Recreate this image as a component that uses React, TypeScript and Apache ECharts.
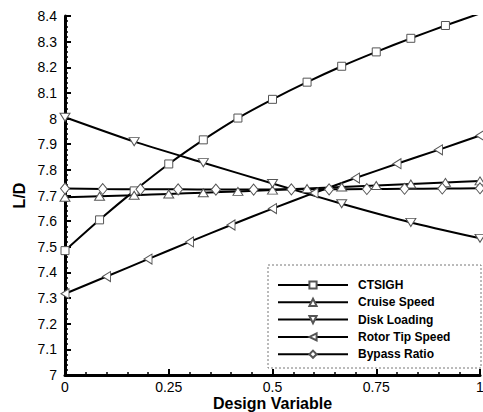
import React, { useEffect, useRef } from "react";
import * as echarts from "echarts";

const xTwelfths = [0, 0.0833, 0.1667, 0.25, 0.3333, 0.4167, 0.5, 0.5833, 0.6667, 0.75, 0.8333, 0.9167, 1];
const xElevenths = [0, 0.0909, 0.1818, 0.2727, 0.3636, 0.4545, 0.5455, 0.6364, 0.7273, 0.8182, 0.9091, 1];
const xSixths = [0, 0.1667, 0.3333, 0.5, 0.6667, 0.8333, 1];
const xTenths = [0, 0.1, 0.2, 0.3, 0.4, 0.5, 0.6, 0.7, 0.8, 0.9, 1];

const ctsigh = [7.485, 7.605, 7.718, 7.823, 7.917, 8.002, 8.075, 8.142, 8.204, 8.26, 8.313, 8.363, 8.41];
const cruiseSpeed = [7.693, 7.697, 7.701, 7.706, 7.711, 7.716, 7.721, 7.727, 7.733, 7.739, 7.745, 7.751, 7.757];
const diskLoading = [8.005, 7.91, 7.828, 7.747, 7.668, 7.595, 7.533];
const rotorTipSpeed = [7.317, 7.384, 7.452, 7.519, 7.585, 7.649, 7.71, 7.768, 7.824, 7.878, 7.934];
const bypassRatio = [7.727, 7.725, 7.724, 7.724, 7.723, 7.723, 7.724, 7.724, 7.725, 7.726, 7.727, 7.728];

const seriesNames = ["CTSIGH", "Cruise Speed", "Disk Loading", "Rotor Tip Speed", "Bypass Ratio"];

const FONT = 'Arial, "Liberation Sans", Helvetica, sans-serif';

function pairs(xs: number[], ys: number[]) {
  return xs.map((x, i) => [x, ys[i]]);
}

export default function App() {
  const ref = useRef<HTMLDivElement>(null);
  useEffect(() => {
    if (!ref.current) return;
    const chart = echarts.init(ref.current, null, { renderer: "svg" });
    const mk = (name: string, data: number[][], symbol: string, size: number | number[]) => ({
      name,
      type: "line",
      data,
      symbol,
      symbolSize: size,
      showAllSymbol: true,
      smooth: 0.2,
      clip: true,
      lineStyle: { color: "#000", width: 2 },
      itemStyle: { color: "#fff", borderColor: "#555", borderWidth: 1 },
      emphasis: { disabled: true },
    });
    chart.setOption({
      animation: false,
      grid: { left: 65, right: 3, top: 16, bottom: 37, outerBoundsMode: "none", containLabel: false },
      xAxis: {
        type: "value",
        min: 0,
        max: 1,
        interval: 0.25,
        name: "Design Variable",
        nameLocation: "middle",
        nameGap: 20,
        nameMoveOverlap: false,
        nameTextStyle: { fontFamily: FONT, fontSize: 16, lineHeight: 16, fontWeight: "bold", color: "#000" },
        axisLine: { show: true, lineStyle: { color: "#000", width: 3 } },
        axisTick: { show: true, inside: true, length: 6, lineStyle: { color: "#000", width: 2 } },
        minorTick: { show: true, splitNumber: 5, length: 3, lineStyle: { color: "#000", width: 1.5 } },
        splitLine: { show: false },
        axisLabel: { fontFamily: FONT, fontSize: 14, color: "#000", margin: 5 },
      },
      yAxis: {
        type: "value",
        min: 7,
        max: 8.4,
        interval: 0.1,
        name: "L/D",
        nameLocation: "middle",
        nameGap: 38,
        nameMoveOverlap: false,
        nameTextStyle: { fontFamily: FONT, fontSize: 16, fontWeight: "bold", color: "#000" },
        axisLine: { show: true, lineStyle: { color: "#000", width: 3 } },
        axisTick: { show: true, inside: true, length: 6, lineStyle: { color: "#000", width: 2 } },
        minorTick: { show: true, splitNumber: 5, length: 3, lineStyle: { color: "#000", width: 1.5 } },
        splitLine: { show: false },
        axisLabel: { fontFamily: FONT, fontSize: 14, color: "#000", margin: 8 },
      },
      legend: {
        orient: "vertical",
        left: 277,
        top: 279,
        padding: 0,
        itemWidth: 70,
        itemHeight: 9,
        itemGap: 5.3,
        selectedMode: false,
        data: seriesNames,
        textStyle: { fontFamily: FONT, fontSize: 12, lineHeight: 12, fontWeight: "bold", color: "#000", padding: [0, 0, 0, 5] },
        z: 10,
      },
      graphic: [
        {
          type: "rect",
          z: 9,
          shape: { x: 268, y: 265, width: 213, height: 103 },
          style: { fill: "#fff", stroke: "#777", lineWidth: 1, lineDash: [2, 2] },
        },
      ],
      series: [
        mk(seriesNames[0], pairs(xTwelfths, ctsigh), "rect", 8),
        mk(seriesNames[1], pairs(xTwelfths, cruiseSpeed), "triangle", [10, 8]),
        mk(seriesNames[2], pairs(xSixths, diskLoading), "path://M0,0 L10,0 L5,9 Z", [10, 8]),
        mk(seriesNames[3], pairs(xTenths, rotorTipSpeed), "path://M9,0 L9,10 L0,5 Z", [8, 10]),
        mk(seriesNames[4], pairs(xElevenths, bypassRatio), "diamond", [9, 11]),
      ],
    });
    return () => chart.dispose();
  }, []);
  return (
    <div
      ref={ref}
      style={{ position: "fixed", left: 0, top: 0, width: 483, height: 412, background: "#fff" }}
    />
  );
}
